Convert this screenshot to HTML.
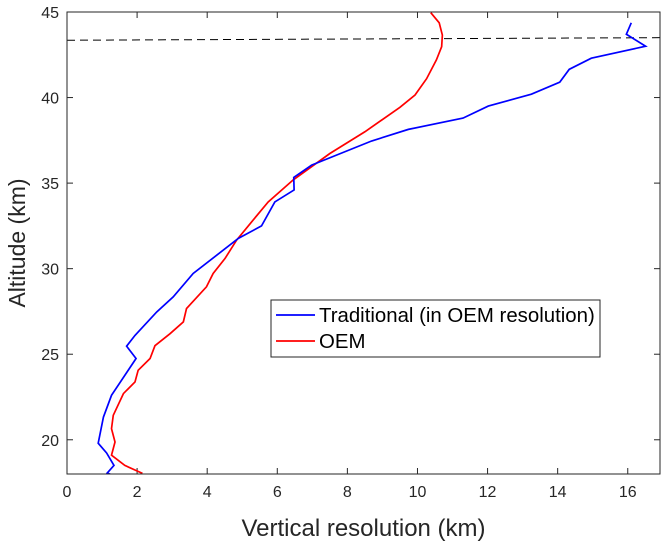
<!DOCTYPE html>
<html><head><meta charset="utf-8">
<style>body{margin:0;background:#fff}svg{font-family:"Liberation Sans",sans-serif}</style>
</head><body>
<svg id="chart" width="667" height="551">
<rect width="667" height="551" fill="#fff"/>
<g id="plot"></g>
</svg>
<script>
const xTicks=[0,2,4,6,8,10,12,14,16];
const yTicks=[20,25,30,35,40,45];
const tradX=[16.1,15.96,16.51,14.96,14.33,14.06,13.25,12.02,11.3,9.74,8.69,6.98,6.47,6.48,5.93,5.55,4.89,3.6,3.03,2.56,1.94,1.70,1.97,1.27,1.04,0.89,1.13,1.34,1.15,1.42];
const tradY=[44.37,43.7,43.0,42.3,41.65,40.9,40.2,39.5,38.8,38.14,37.46,36.05,35.33,34.6,33.9,32.5,31.77,29.72,28.35,27.47,26.1,25.47,24.75,22.6,21.33,19.8,19.23,18.5,18.06,17.83];
const oemX=[10.38,10.62,10.71,10.69,10.54,10.26,9.93,9.5,8.5,7.5,6.45,5.74,5.27,4.84,4.51,4.17,3.98,3.41,3.32,2.94,2.51,2.37,2.03,1.94,1.61,1.32,1.27,1.37,1.27,1.65,2.13,2.08];
const oemY=[44.96,44.37,43.65,42.97,42.2,41.1,40.15,39.43,38.0,36.73,35.18,33.9,32.74,31.67,30.6,29.72,28.94,27.67,26.89,26.2,25.5,24.75,24.06,23.38,22.7,21.43,20.65,19.87,19.1,18.5,18.06,17.87];
const limitY=[43.35,43.5];
const L=67,R=660,T=12,B=474,X0=0,X1=16.92,Y0=18,Y1=45;
const sx=v=>L+(v-X0)/(X1-X0)*(R-L);
const sy=v=>B-(v-Y0)/(Y1-Y0)*(B-T);
const g=document.getElementById('plot');
const NS='http://www.w3.org/2000/svg';
function mk(t,a){const e=document.createElementNS(NS,t);for(const k in a)e.setAttribute(k,a[k]);g.appendChild(e);return e;}
const defs=mk('defs',{});const cp=document.createElementNS(NS,'clipPath');cp.setAttribute('id','c');const cr=document.createElementNS(NS,'rect');
cr.setAttribute('x',L);cr.setAttribute('y',T);cr.setAttribute('width',R-L);cr.setAttribute('height',B-T);cp.appendChild(cr);defs.appendChild(cp);
xTicks.forEach(v=>{
  const t=mk('line',{x1:sx(v),x2:sx(v),y1:B,y2:B-6,stroke:'#262626'});
  
  
  const t2=mk('line',{x1:sx(v),x2:sx(v),y1:T,y2:T+6,stroke:'#262626'});
  
  
  const l=mk('text',{x:sx(v),y:B+23,'text-anchor':'middle','font-size':'16',fill:'#262626'});l.textContent=v;
  
  
});
yTicks.forEach(v=>{
  const t=mk('line',{x1:L,x2:L+6,y1:sy(v),y2:sy(v),stroke:'#262626'});
  
  
  const t2=mk('line',{x1:R,x2:R-6,y1:sy(v),y2:sy(v),stroke:'#262626'});
  
  
  const l=mk('text',{x:L-8,y:sy(v)+6,'text-anchor':'end','font-size':'16',fill:'#262626'});l.textContent=v;
  
  
});
const dl=mk('line',{x1:sx(X0),x2:sx(X1),y1:sy(limitY[0]),y2:sy(limitY[1]),stroke:'#000','stroke-dasharray':'8,5','stroke-width':1,'clip-path':'url(#c)'});


function series(xs,ys,col,name){
  const p=mk('polyline',{points:xs.map((x,i)=>sx(x)+','+sy(ys[i])).join(' '),fill:'none',stroke:col,'stroke-width':1.7,'clip-path':'url(#c)'});
  
  
}
series(oemX,oemY,'#ff0000','oem-line');
series(tradX,tradY,'#0000ff','traditional-line');
const fr=mk('rect',{x:L,y:T,width:R-L,height:B-T,fill:'none',stroke:'#262626','stroke-width':1});


const xt=mk('text',{x:(L+R)/2,y:536,'text-anchor':'middle','font-size':'24',fill:'#262626'});xt.textContent='Vertical resolution (km)';


const yt=mk('text',{x:0,y:0,'text-anchor':'middle','font-size':'23',fill:'#262626',transform:`translate(25,${(T+B)/2}) rotate(-90)`});yt.textContent='Altitude (km)';


const lg=mk('rect',{x:271,y:300,width:329,height:57,fill:'#fff',stroke:'#262626','stroke-width':1});


[['Traditional (in OEM resolution)','#0000ff',315],['OEM','#ff0000',341]].forEach(([txt,c,y])=>{
  const ln=mk('line',{x1:276,x2:315,y1:y,y2:y,stroke:c,'stroke-width':1.7});
  
  
  const tx=mk('text',{x:319,y:y+7,'font-size':'20.4',fill:'#000'});tx.textContent=txt;
  
  
});
</script>
</body></html>
